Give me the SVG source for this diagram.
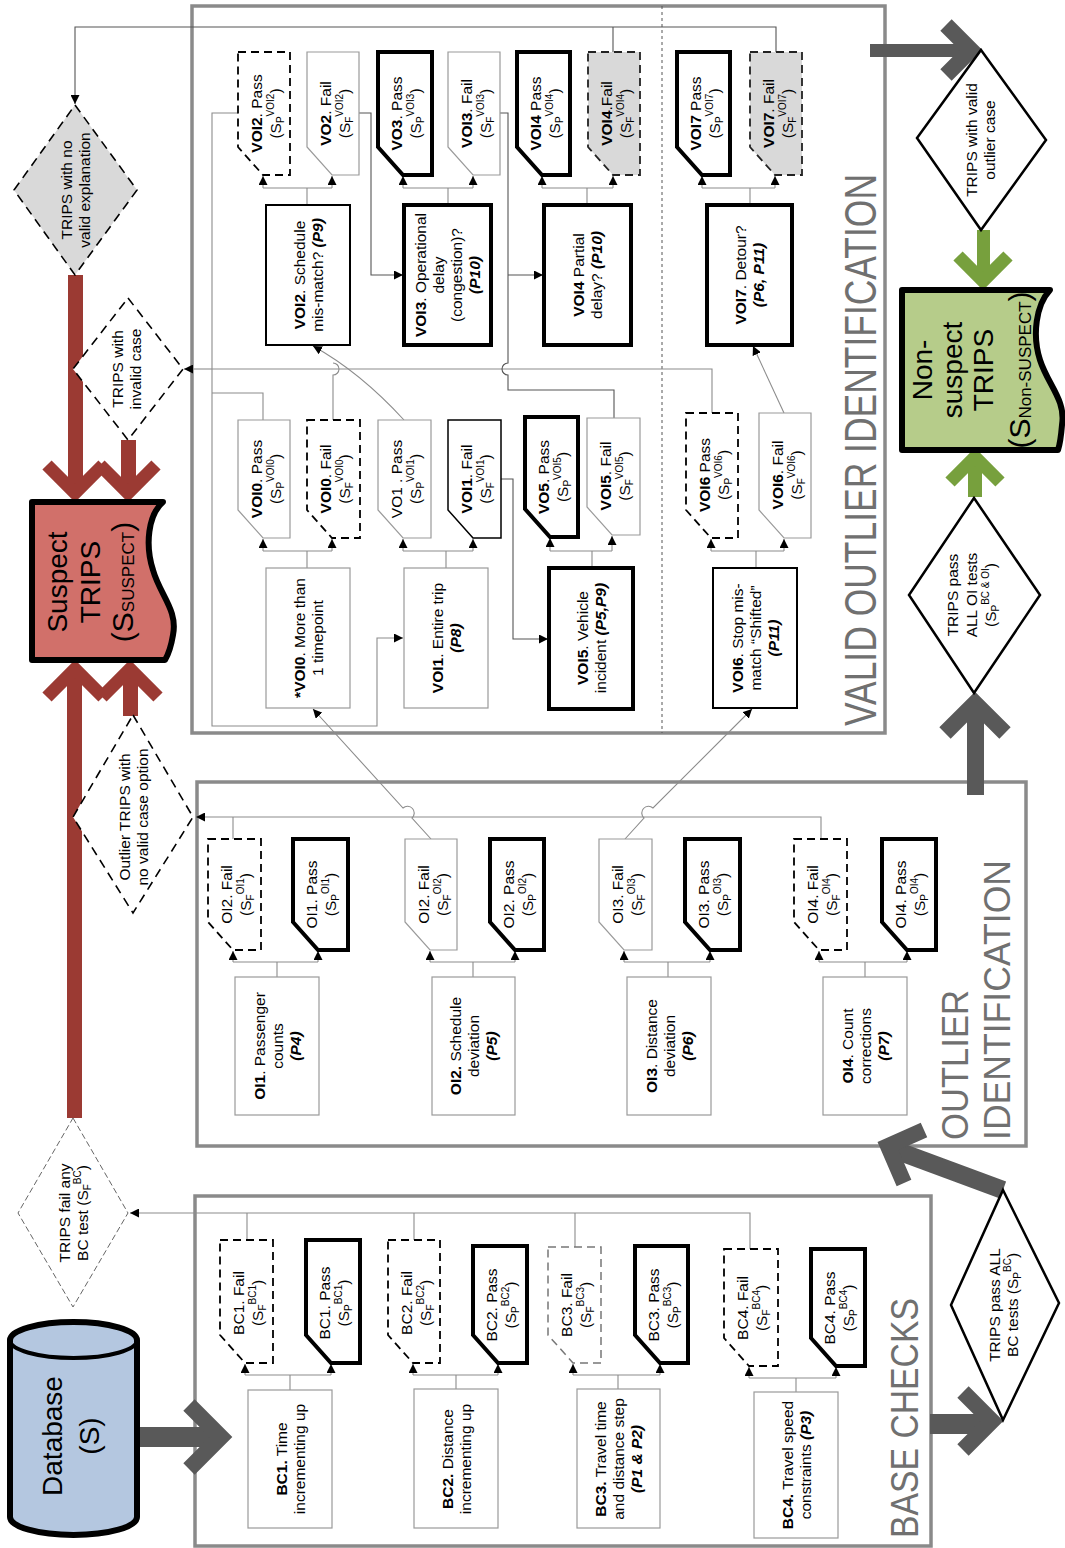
<svg xmlns="http://www.w3.org/2000/svg" width="1065" height="1548" viewBox="0 0 1065 1548">
<defs>
<style>
.t{font-family:"Liberation Sans",Arial,sans-serif;font-size:15.5px;fill:#000;text-anchor:middle}
.b{font-weight:bold}
.bi{font-weight:bold;font-style:italic}
.s{font-size:10px}
.big{font-family:"Liberation Sans",Arial,sans-serif;font-size:28px;fill:#000;text-anchor:middle}
.title{font-family:"Liberation Sans",Arial,sans-serif;fill:#707070}
.frame{fill:none;stroke:#8a8a8a;stroke-width:3.5}
.ln{fill:none;stroke:#8c8c8c;stroke-width:1.1}
.lnd{fill:none;stroke:#555;stroke-width:1.1}
.thick{fill:#fff;stroke:#000;stroke-width:4}
.med{fill:#fff;stroke:#000;stroke-width:2}
.blk{fill:#fff;stroke:#000;stroke-width:1.5}
.thin{fill:#fff;stroke:#9a9a9a;stroke-width:1.2}
.dash{fill:#fff;stroke:#000;stroke-width:1.8;stroke-dasharray:8 5}
.ldash{fill:#fff;stroke:#777;stroke-width:1.5;stroke-dasharray:8 5}
.gdash{fill:#d9d9d9;stroke:#222;stroke-width:1.8;stroke-dasharray:8 5}
.dia{fill:#fff;stroke:#000;stroke-width:2.5}
.ddia{fill:#fff;stroke:#000;stroke-width:1.6;stroke-dasharray:9 6}
.gdia{fill:#d9d9d9;stroke:#000;stroke-width:1.6;stroke-dasharray:9 6}
.tdia{fill:#fff;stroke:#666;stroke-width:1;stroke-dasharray:6 3}
.red{fill:#9b3a33}
.redc{fill:none;stroke:#9b3a33;stroke-width:13}
.gry{fill:#595959}
.gryc{fill:none;stroke:#595959;stroke-width:16}
.grn{fill:#77a03d}
.grnc{fill:none;stroke:#77a03d;stroke-width:13}
</style>
<marker id="ah" viewBox="0 0 10 10" refX="10" refY="5" markerWidth="9" markerHeight="9" orient="auto" markerUnits="userSpaceOnUse"><path d="M0,0L10,5L0,10z" fill="#000"/></marker>
</defs>
<rect width="1065" height="1548" fill="#fff"/>

<!-- section frames -->
<g id="frames">
<rect class="frame" x="192" y="6" width="693" height="727"/>
<line x1="662" y1="6" x2="662" y2="733" stroke="#555" stroke-width="1" stroke-dasharray="3 3"/>
<rect class="frame" x="197" y="782" width="829" height="364"/>
<rect class="frame" x="195" y="1196" width="736" height="350"/>
<text class="title" font-size="45" transform="translate(876,726) rotate(-90)" textLength="552" lengthAdjust="spacingAndGlyphs">VALID OUTLIER IDENTIFICATION</text>
<text class="title" font-size="36" transform="translate(968,1140) rotate(-90)" textLength="150" lengthAdjust="spacingAndGlyphs">OUTLIER</text>
<text class="title" font-size="36" transform="translate(1010,1140) rotate(-90)" textLength="280" lengthAdjust="spacingAndGlyphs">IDENTIFICATION</text>
<text class="title" font-size="38" transform="translate(918,1538) rotate(-90)" textLength="240" lengthAdjust="spacingAndGlyphs">BASE CHECKS</text>
</g>

<!-- connectors: thin flow lines and the broad arrows -->
<g id="connectors">
<!-- VOI upper row -->
<path class="ln" d="M263,188H332M307,188V205M403,188H473M448,188V205M542,188H613M587,188V205M702,188H775M750,188V205"/>
<path class="ln" d="M263,188V176" marker-end="url(#ah)"/>
<path class="ln" d="M332,188V176" marker-end="url(#ah)"/>
<path class="ln" d="M403,188V176" marker-end="url(#ah)"/>
<path class="ln" d="M473,188V176" marker-end="url(#ah)"/>
<path class="ln" d="M542,188V176" marker-end="url(#ah)"/>
<path class="ln" d="M613,188V176" marker-end="url(#ah)"/>
<path class="ln" d="M702,188V176" marker-end="url(#ah)"/>
<path class="ln" d="M775,188V176" marker-end="url(#ah)"/>
<!-- VOI lower row -->
<path class="ln" d="M263,551H332M307,551V568M403,551H473M446,551V568M550,551H612M592,551V568M711,551H784M756,551V568"/>
<path class="ln" d="M263,551V539" marker-end="url(#ah)"/>
<path class="ln" d="M332,551V539" marker-end="url(#ah)"/>
<path class="ln" d="M403,551V539" marker-end="url(#ah)"/>
<path class="ln" d="M473,551V539" marker-end="url(#ah)"/>
<path class="ln" d="M550,551V538" marker-end="url(#ah)"/>
<path class="ln" d="M612,551V536" marker-end="url(#ah)"/>
<path class="ln" d="M711,551V539" marker-end="url(#ah)"/>
<path class="ln" d="M784,551V539" marker-end="url(#ah)"/>
<!-- OI row -->
<path class="ln" d="M233,962H318M277,962V977M430,962H515M473,962V977M624,962H710M668,962V977M819,962H907M865,962V977"/>
<path class="ln" d="M233,962V951" marker-end="url(#ah)"/>
<path class="ln" d="M318,962V951" marker-end="url(#ah)"/>
<path class="ln" d="M430,962V951" marker-end="url(#ah)"/>
<path class="ln" d="M515,962V951" marker-end="url(#ah)"/>
<path class="ln" d="M624,962V951" marker-end="url(#ah)"/>
<path class="ln" d="M710,962V951" marker-end="url(#ah)"/>
<path class="ln" d="M819,962V951" marker-end="url(#ah)"/>
<path class="ln" d="M907,962V951" marker-end="url(#ah)"/>
<!-- BC row -->
<path class="ln" d="M245,1375H331M290,1375V1390M413,1375H498M456,1375V1389M573,1375H660M618,1375V1389M749,1378H836M796,1378V1392"/>
<path class="ln" d="M245,1375V1364" marker-end="url(#ah)"/>
<path class="ln" d="M331,1375V1364" marker-end="url(#ah)"/>
<path class="ln" d="M413,1375V1364" marker-end="url(#ah)"/>
<path class="ln" d="M498,1375V1364" marker-end="url(#ah)"/>
<path class="ln" d="M573,1375V1364" marker-end="url(#ah)"/>
<path class="ln" d="M660,1375V1364" marker-end="url(#ah)"/>
<path class="ln" d="M749,1378V1367" marker-end="url(#ah)"/>
<path class="ln" d="M836,1378V1367" marker-end="url(#ah)"/>

<!-- routing inside VOI -->
<path class="lnd" d="M776,52V27H75V104" marker-end="url(#ah)"/>
<path class="lnd" d="M613,52V27"/>
<path class="ln" d="M238,113H212V726H377V638H403" marker-end="url(#ah)"/>
<path class="ln" d="M212,369H184" marker-end="url(#ah)"/>
<path class="ln" d="M212,369H712V413"/>
<path class="ln" d="M263,420V393H212"/>
<path class="ln" d="M333,420V375A6,6 0 0 0 333,363"/>
<path class="lnd" d="M359,113H371V275H403" marker-end="url(#ah)"/>
<path class="lnd" d="M500,113H508V363A6,6 0 0 0 508,375V390H614V418"/>
<path class="lnd" d="M508,275H543" marker-end="url(#ah)"/>
<path class="ln" d="M404,420Q360,372 313,346" marker-end="url(#ah)"/>
<path class="ln" d="M784,413L753,346" marker-end="url(#ah)"/>
<path class="lnd" d="M501,479H513V639H548" marker-end="url(#ah)"/>
<!-- OI to VOI -->
<path class="ln" d="M431,839L412,818A6,6 0 0 0 403,808L313,709" marker-end="url(#ah)"/>
<path class="ln" d="M625,839L644,818A6,6 0 0 1 653,808L752,709" marker-end="url(#ah)"/>
<path class="ln" d="M821,839V817H196" marker-end="url(#ah)"/>
<path class="ln" d="M233,839V817"/>
<!-- BC fail line -->
<path class="ln" d="M750,1250V1213H130" marker-end="url(#ah)"/>
<path class="ln" d="M247,1240V1213M414,1240V1213M575,1247V1213"/>

<!-- broad arrows -->
<rect class="red" x="68" y="275" width="15" height="218"/>
<polyline class="redc" points="47,465 75,493 103,465"/>
<rect class="red" x="121" y="440" width="15" height="53"/>
<polyline class="redc" points="100,465 128,493 156,465"/>
<rect class="red" x="67" y="670" width="15" height="448"/>
<polyline class="redc" points="47,697 75,669 103,697"/>
<rect class="red" x="123" y="670" width="15" height="46"/>
<polyline class="redc" points="102,697 130,669 158,697"/>

<rect class="gry" x="137" y="1427" width="82" height="20"/>
<polyline class="gryc" points="189,1405 221,1437 189,1469"/>
<rect class="gry" x="930" y="1414" width="60" height="20"/>
<polyline class="gryc" points="963,1392 992,1421 963,1450"/>
<line x1="1003" y1="1190" x2="895" y2="1150" stroke="#595959" stroke-width="18"/>
<polyline class="gryc" points="904,1183 888,1146 924,1130"/>
<rect class="gry" x="967" y="705" width="17" height="90"/>
<polyline class="gryc" points="945,733 975,703 1005,733"/>
<rect class="gry" x="870" y="44" width="98" height="13"/>
<polyline class="gryc" points="946,25 971,50 946,75"/>

<rect class="grn" x="977" y="230" width="13" height="50"/>
<polyline class="grnc" points="958,256 983,281 1008,256"/>
<rect class="grn" x="968" y="460" width="14" height="37"/>
<polyline class="grnc" points="950,482 975,457 1000,482"/>
</g>

<!-- VOI upper cards -->
<g id="voi2-pass"><path class="dash" d="M238,52H290V175H263L238,147Z"/>
<text class="t" transform="translate(262,113.5) rotate(-90)"><tspan class="b">VOI2</tspan>. Pass<tspan x="0" dy="19">(S</tspan><tspan class="s" dy="3">P</tspan><tspan class="s" dy="-10">VOI2</tspan><tspan dy="7">)</tspan></text></g>
<g id="vo2-fail"><path class="thin" d="M307,52H359V175H332L307,147Z"/>
<text class="t" transform="translate(331,113.5) rotate(-90)"><tspan class="b">VO2</tspan>. Fail<tspan x="0" dy="19">(S</tspan><tspan class="s" dy="3">F</tspan><tspan class="s" dy="-10">VOI2</tspan><tspan dy="7">)</tspan></text></g>
<g id="vo3-pass"><path class="thick" d="M378,52H432V175H403L378,147Z"/>
<text class="t" transform="translate(402,113.5) rotate(-90)"><tspan class="b">VO3</tspan>. Pass<tspan x="0" dy="19">(S</tspan><tspan class="s" dy="3">P</tspan><tspan class="s" dy="-10">VOI3</tspan><tspan dy="7">)</tspan></text></g>
<g id="voi3-fail"><path class="thin" d="M448,52H500V175H473L448,147Z"/>
<text class="t" transform="translate(472,113.5) rotate(-90)"><tspan class="b">VOI3</tspan>. Fail<tspan x="0" dy="19">(S</tspan><tspan class="s" dy="3">F</tspan><tspan class="s" dy="-10">VOI3</tspan><tspan dy="7">)</tspan></text></g>
<g id="voi4-pass"><path class="thick" d="M517,52H570V175H542L517,147Z"/>
<text class="t" transform="translate(541,113.5) rotate(-90)"><tspan class="b">VOI4</tspan> Pass<tspan x="0" dy="19">(S</tspan><tspan class="s" dy="3">P</tspan><tspan class="s" dy="-10">VOI4</tspan><tspan dy="7">)</tspan></text></g>
<g id="voi4-fail"><path class="gdash" d="M588,52H640V175H613L588,147Z"/>
<text class="t" transform="translate(612,113.5) rotate(-90)"><tspan class="b">VOI4</tspan>.Fail<tspan x="0" dy="19">(S</tspan><tspan class="s" dy="3">F</tspan><tspan class="s" dy="-10">VOI4</tspan><tspan dy="7">)</tspan></text></g>
<g id="voi7-pass"><path class="thick" d="M677,52H730V175H702L677,147Z"/>
<text class="t" transform="translate(701,113.5) rotate(-90)"><tspan class="b">VOI7</tspan> Pass<tspan x="0" dy="19">(S</tspan><tspan class="s" dy="3">P</tspan><tspan class="s" dy="-10">VOI7</tspan><tspan dy="7">)</tspan></text></g>
<g id="voi7-fail"><path class="gdash" d="M750,52H802V175H775L750,147Z"/>
<text class="t" transform="translate(774,113.5) rotate(-90)"><tspan class="b">VOI7</tspan>. Fail<tspan x="0" dy="19">(S</tspan><tspan class="s" dy="3">F</tspan><tspan class="s" dy="-10">VOI7</tspan><tspan dy="7">)</tspan></text></g>

<!-- VOI upper tests -->
<g id="voi2"><rect class="med" x="266" y="205" width="84" height="140"/>
<text class="t" transform="translate(304.5,275) rotate(-90)"><tspan class="b">VOI2</tspan>. Schedule<tspan x="0" dy="18">mis-match? </tspan><tspan class="bi">(P9)</tspan></text></g>
<g id="voi3"><rect class="thick" x="404" y="205" width="87" height="140"/>
<text class="t" transform="translate(426,275) rotate(-90)"><tspan class="b">VOI3</tspan>. Operational<tspan x="0" dy="18">delay</tspan><tspan x="0" dy="18">(congestion)?</tspan><tspan x="0" dy="18" class="bi">(P10)</tspan></text></g>
<g id="voi4"><rect class="thick" x="544" y="205" width="87" height="140"/>
<text class="t" transform="translate(584,275) rotate(-90)"><tspan class="b">VOI4</tspan> Partial<tspan x="0" dy="18">delay? </tspan><tspan class="bi">(P10)</tspan></text></g>
<g id="voi7"><rect class="thick" x="707" y="205" width="85" height="140"/>
<text class="t" transform="translate(746,275) rotate(-90)"><tspan class="b">VOI7</tspan>. Detour?<tspan x="0" dy="18" class="bi">(P6, P11)</tspan></text></g>

<!-- VOI lower cards -->
<g id="voi0-pass"><path class="thin" d="M238,420H290V538H263L238,510Z"/>
<text class="t" transform="translate(262,479) rotate(-90)"><tspan class="b">VOI0</tspan>. Pass<tspan x="0" dy="19">(S</tspan><tspan class="s" dy="3">P</tspan><tspan class="s" dy="-10">VOI0</tspan><tspan dy="7">)</tspan></text></g>
<g id="voi0-fail"><path class="dash" d="M307,420H360V538H332L307,510Z"/>
<text class="t" transform="translate(331,479) rotate(-90)"><tspan class="b">VOI0</tspan>. Fail<tspan x="0" dy="19">(S</tspan><tspan class="s" dy="3">F</tspan><tspan class="s" dy="-10">VOI0</tspan><tspan dy="7">)</tspan></text></g>
<g id="vo1-pass"><path class="thin" d="M378,420H431V538H403L378,510Z"/>
<text class="t" transform="translate(402,479) rotate(-90)">VO1 . Pass<tspan x="0" dy="19">(S</tspan><tspan class="s" dy="3">P</tspan><tspan class="s" dy="-10">VOI1</tspan><tspan dy="7">)</tspan></text></g>
<g id="voi1-fail"><path class="blk" d="M448,420H501V538H473L448,510Z"/>
<text class="t" transform="translate(472,479) rotate(-90)"><tspan class="b">VOI1</tspan>. Fail<tspan x="0" dy="19">(S</tspan><tspan class="s" dy="3">F</tspan><tspan class="s" dy="-10">VOI1</tspan><tspan dy="7">)</tspan></text></g>
<g id="vo5-pass"><path class="thick" d="M525,417H578V537H550L525,509Z"/>
<text class="t" transform="translate(549,477) rotate(-90)"><tspan class="b">VO5</tspan>. Pass<tspan x="0" dy="19">(S</tspan><tspan class="s" dy="3">P</tspan><tspan class="s" dy="-10">VOI5</tspan><tspan dy="7">)</tspan></text></g>
<g id="voi5-fail"><path class="thin" d="M587,418H640V535H612L587,507Z"/>
<text class="t" transform="translate(611,476) rotate(-90)"><tspan class="b">VOI5</tspan>. Fail<tspan x="0" dy="19">(S</tspan><tspan class="s" dy="3">F</tspan><tspan class="s" dy="-10">VOI5</tspan><tspan dy="7">)</tspan></text></g>
<g id="voi6-pass"><path class="dash" d="M686,413H738V538H711L686,510Z"/>
<text class="t" transform="translate(710,475) rotate(-90)"><tspan class="b">VOI6</tspan> Pass<tspan x="0" dy="19">(S</tspan><tspan class="s" dy="3">P</tspan><tspan class="s" dy="-10">VOI6</tspan><tspan dy="7">)</tspan></text></g>
<g id="voi6-fail"><path class="thin" d="M759,413H811V538H784L759,510Z"/>
<text class="t" transform="translate(783,475) rotate(-90)"><tspan class="b">VOI6</tspan>. Fail<tspan x="0" dy="19">(S</tspan><tspan class="s" dy="3">F</tspan><tspan class="s" dy="-10">VOI6</tspan><tspan dy="7">)</tspan></text></g>

<!-- VOI lower tests -->
<g id="voi0"><rect class="thin" x="266" y="568" width="84" height="140"/>
<text class="t" transform="translate(304.5,638) rotate(-90)"><tspan class="b">*VOI0</tspan>. More than<tspan x="0" dy="18">1 timepoint</tspan></text></g>
<g id="voi1"><rect class="thin" x="404" y="568" width="84" height="140"/>
<text class="t" transform="translate(442.5,638) rotate(-90)"><tspan class="b">VOI1</tspan>. Entire trip<tspan x="0" dy="18" class="bi">(P8)</tspan></text></g>
<g id="voi5"><rect class="thick" x="549" y="568" width="84" height="141"/>
<text class="t" transform="translate(587.5,638) rotate(-90)"><tspan class="b">VOI5</tspan>. Vehicle<tspan x="0" dy="18">incident </tspan><tspan class="bi">(P5,P9)</tspan></text></g>
<g id="voi6"><rect class="med" x="713" y="568" width="84" height="140"/>
<text class="t" transform="translate(742.5,638) rotate(-90)"><tspan class="b">VOI6</tspan>. Stop mis-<tspan x="0" dy="18">match “Shifted”</tspan><tspan x="0" dy="18" class="bi">(P11)</tspan></text></g>

<!-- OI cards -->
<g id="oi1-fail"><path class="dash" d="M208,839H261V950H233L208,922Z"/>
<text class="t" transform="translate(232,894.5) rotate(-90)">OI2. Fail<tspan x="0" dy="19">(S</tspan><tspan class="s" dy="3">F</tspan><tspan class="s" dy="-10">OI1</tspan><tspan dy="7">)</tspan></text></g>
<g id="oi1-pass"><path class="thick" d="M293,839H348V950H318L293,922Z"/>
<text class="t" transform="translate(317,894.5) rotate(-90)">OI1. Pass<tspan x="0" dy="19">(S</tspan><tspan class="s" dy="3">P</tspan><tspan class="s" dy="-10">OI1</tspan><tspan dy="7">)</tspan></text></g>
<g id="oi2-fail"><path class="thin" d="M405,839H457V950H430L405,922Z"/>
<text class="t" transform="translate(429,894.5) rotate(-90)">OI2. Fail<tspan x="0" dy="19">(S</tspan><tspan class="s" dy="3">F</tspan><tspan class="s" dy="-10">OI2</tspan><tspan dy="7">)</tspan></text></g>
<g id="oi2-pass"><path class="thick" d="M490,839H544V950H515L490,922Z"/>
<text class="t" transform="translate(514,894.5) rotate(-90)">OI2. Pass<tspan x="0" dy="19">(S</tspan><tspan class="s" dy="3">P</tspan><tspan class="s" dy="-10">OI2</tspan><tspan dy="7">)</tspan></text></g>
<g id="oi3-fail"><path class="thin" d="M599,839H652V950H624L599,922Z"/>
<text class="t" transform="translate(623,894.5) rotate(-90)">OI3. Fail<tspan x="0" dy="19">(S</tspan><tspan class="s" dy="3">F</tspan><tspan class="s" dy="-10">OI3</tspan><tspan dy="7">)</tspan></text></g>
<g id="oi3-pass"><path class="thick" d="M685,839H740V950H710L685,922Z"/>
<text class="t" transform="translate(709,894.5) rotate(-90)">OI3. Pass<tspan x="0" dy="19">(S</tspan><tspan class="s" dy="3">P</tspan><tspan class="s" dy="-10">OI3</tspan><tspan dy="7">)</tspan></text></g>
<g id="oi4-fail"><path class="dash" d="M794,839H847V950H819L794,922Z"/>
<text class="t" transform="translate(818,894.5) rotate(-90)">OI4. Fail<tspan x="0" dy="19">(S</tspan><tspan class="s" dy="3">F</tspan><tspan class="s" dy="-10">OI4</tspan><tspan dy="7">)</tspan></text></g>
<g id="oi4-pass"><path class="thick" d="M882,839H936V950H907L882,922Z"/>
<text class="t" transform="translate(906,894.5) rotate(-90)">OI4. Pass<tspan x="0" dy="19">(S</tspan><tspan class="s" dy="3">P</tspan><tspan class="s" dy="-10">OI4</tspan><tspan dy="7">)</tspan></text></g>

<!-- OI tests -->
<g id="oi1"><rect class="thin" x="235" y="977" width="84" height="138"/>
<text class="t" transform="translate(264.5,1046) rotate(-90)"><tspan class="b">OI1</tspan>. Passenger<tspan x="0" dy="18">counts</tspan><tspan x="0" dy="18" class="bi">(P4)</tspan></text></g>
<g id="oi2"><rect class="thin" x="432" y="977" width="83" height="138"/>
<text class="t" transform="translate(461,1046) rotate(-90)"><tspan class="b">OI2.</tspan> Schedule<tspan x="0" dy="18">deviation</tspan><tspan x="0" dy="18" class="bi">(P5)</tspan></text></g>
<g id="oi3"><rect class="thin" x="627" y="977" width="84" height="138"/>
<text class="t" transform="translate(656.5,1046) rotate(-90)"><tspan class="b">OI3</tspan>. Distance<tspan x="0" dy="18">deviation</tspan><tspan x="0" dy="18" class="bi">(P6)</tspan></text></g>
<g id="oi4"><rect class="thin" x="823" y="977" width="84" height="138"/>
<text class="t" transform="translate(852.5,1046) rotate(-90)"><tspan class="b">OI4</tspan>. Count<tspan x="0" dy="18">corrections</tspan><tspan x="0" dy="18" class="bi">(P7)</tspan></text></g>

<!-- BC cards -->
<g id="bc1-fail"><path class="dash" d="M220,1240H273V1363H245L220,1335Z"/>
<text class="t" transform="translate(244,1303) rotate(-90)">BC1. Fail<tspan x="0" dy="19">(S</tspan><tspan class="s" dy="3">F</tspan><tspan class="s" dy="-10">BC1</tspan><tspan dy="7">)</tspan></text></g>
<g id="bc1-pass"><path class="thick" d="M306,1240H360V1363H331L306,1335Z"/>
<text class="t" transform="translate(330,1303) rotate(-90)">BC1. Pass<tspan x="0" dy="19">(S</tspan><tspan class="s" dy="3">P</tspan><tspan class="s" dy="-10">BC1</tspan><tspan dy="7">)</tspan></text></g>
<g id="bc2-fail"><path class="dash" d="M388,1240H440V1363H413L388,1335Z"/>
<text class="t" transform="translate(412,1303) rotate(-90)">BC2. Fail<tspan x="0" dy="19">(S</tspan><tspan class="s" dy="3">F</tspan><tspan class="s" dy="-10">BC2</tspan><tspan dy="7">)</tspan></text></g>
<g id="bc2-pass"><path class="thick" d="M473,1246H527V1363H498L473,1335Z"/>
<text class="t" transform="translate(497,1305) rotate(-90)">BC2. Pass<tspan x="0" dy="19">(S</tspan><tspan class="s" dy="3">P</tspan><tspan class="s" dy="-10">BC2</tspan><tspan dy="7">)</tspan></text></g>
<g id="bc3-fail"><path class="ldash" d="M548,1247H601V1363H573L548,1335Z"/>
<text class="t" transform="translate(572,1305) rotate(-90)">BC3. Fail<tspan x="0" dy="19">(S</tspan><tspan class="s" dy="3">F</tspan><tspan class="s" dy="-10">BC3</tspan><tspan dy="7">)</tspan></text></g>
<g id="bc3-pass"><path class="thick" d="M635,1246H688V1363H660L635,1335Z"/>
<text class="t" transform="translate(659,1305) rotate(-90)">BC3. Pass<tspan x="0" dy="19">(S</tspan><tspan class="s" dy="3">P</tspan><tspan class="s" dy="-10">BC3</tspan><tspan dy="7">)</tspan></text></g>
<g id="bc4-fail"><path class="dash" d="M724,1249H778V1366H749L724,1338Z"/>
<text class="t" transform="translate(748,1308) rotate(-90)">BC4. Fail<tspan x="0" dy="19">(S</tspan><tspan class="s" dy="3">F</tspan><tspan class="s" dy="-10">BC4</tspan><tspan dy="7">)</tspan></text></g>
<g id="bc4-pass"><path class="thick" d="M811,1249H865V1366H836L811,1338Z"/>
<text class="t" transform="translate(835,1308) rotate(-90)">BC4. Pass<tspan x="0" dy="19">(S</tspan><tspan class="s" dy="3">P</tspan><tspan class="s" dy="-10">BC4</tspan><tspan dy="7">)</tspan></text></g>

<!-- BC tests -->
<g id="bc1"><rect class="thin" x="248" y="1390" width="84" height="138"/>
<text class="t" transform="translate(286.5,1459) rotate(-90)"><tspan class="b">BC1.</tspan> Time<tspan x="0" dy="18">incrementing up</tspan></text></g>
<g id="bc2"><rect class="thin" x="414" y="1389" width="84" height="139"/>
<text class="t" transform="translate(452.5,1459) rotate(-90)"><tspan class="b">BC2.</tspan> Distance<tspan x="0" dy="18">incrementing up</tspan></text></g>
<g id="bc3"><rect class="thin" x="577" y="1389" width="83" height="139"/>
<text class="t" transform="translate(606,1459) rotate(-90)"><tspan class="b">BC3.</tspan> Travel time<tspan x="0" dy="18">and distance step</tspan><tspan x="0" dy="18" class="bi">(P1 &amp; P2)</tspan></text></g>
<g id="bc4"><rect class="thin" x="754" y="1392" width="84" height="146"/>
<text class="t" transform="translate(792.5,1465) rotate(-90)"><tspan class="b">BC4.</tspan> Travel speed<tspan x="0" dy="18">constraints </tspan><tspan class="bi">(P3)</tspan></text></g>

<!-- decision diamonds -->
<g id="no-valid-explanation"><polygon class="gdia" points="75,105 137,190 75,275 14,190"/>
<text class="t" transform="translate(72,190) rotate(-90)">TRIPS with no<tspan x="0" dy="18">valid explanation</tspan></text></g>
<g id="invalid-case"><polygon class="ddia" points="128,298 183,369 128,440 73,369"/>
<text class="t" transform="translate(123,369) rotate(-90)">TRIPS with<tspan x="0" dy="18">invalid case</tspan></text></g>
<g id="no-valid-case-option"><polygon class="ddia" points="133,715 193,817 133,913 73,817"/>
<text class="t" transform="translate(130,817) rotate(-90)">Outlier TRIPS with<tspan x="0" dy="18">no valid case option</tspan></text></g>
<g id="fail-any-bc"><polygon class="tdia" points="73,1118 128,1213 73,1307 18,1213"/>
<text class="t" transform="translate(70,1213) rotate(-90)">TRIPS fail any<tspan x="0" dy="18">BC test (S</tspan><tspan class="s" dy="3">F</tspan><tspan class="s" dy="-10">BC</tspan><tspan dy="7">)</tspan></text></g>
<g id="pass-all-bc"><polygon class="dia" points="1003,1190 1059,1303 1003,1420 951,1305"/>
<text class="t" transform="translate(1000,1305) rotate(-90)">TRIPS pass ALL<tspan x="0" dy="18">BC tests (S</tspan><tspan class="s" dy="3">P</tspan><tspan class="s" dy="-10">BC</tspan><tspan dy="7">)</tspan></text></g>
<g id="pass-all-oi"><polygon class="dia" points="974,498 1040,595 974,693 909,595"/>
<text class="t" transform="translate(958,595) rotate(-90)">TRIPS pass<tspan x="0" dy="19">ALL OI tests</tspan><tspan x="0" dy="19">(S</tspan><tspan class="s" dy="3">P</tspan><tspan class="s" dy="-10">BC &amp; OI</tspan><tspan dy="7">)</tspan></text></g>
<g id="valid-outlier-case"><polygon class="dia" points="981,50 1046,140 981,230 917,138"/>
<text class="t" transform="translate(977,140) rotate(-90)">TRIPS with valid<tspan x="0" dy="18">outlier case</tspan></text></g>

<!-- data stores -->
<g id="database">
<path d="M10,1340A63.5,18 0 0 1 137,1340V1517A63.5,18 0 0 1 10,1517Z" fill="#b4c7e0" stroke="#000" stroke-width="6"/>
<path d="M10,1340A63.5,18 0 0 0 137,1340" fill="none" stroke="#000" stroke-width="4"/>
<text class="big" font-size="36" transform="translate(62,1436) rotate(-90)">Database<tspan x="0" dy="37">(S)</tspan></text>
</g>
<g id="suspect-trips">
<path d="M32,502H163C148,515 145,545 153,570C160,595 178,610 173,635C171,647 168,655 165,660H32Z" fill="#d1706a" stroke="#000" stroke-width="6" stroke-linejoin="round"/>
<text class="big" transform="translate(67,582) rotate(-90)">Suspect<tspan x="0" dy="33">TRIPS</tspan><tspan x="0" dy="33" font-size="30">(S</tspan><tspan font-size="17" dy="1">SUSPECT</tspan><tspan font-size="30" dy="-1">)</tspan></text>
</g>
<g id="non-suspect-trips">
<path d="M902,290H1050C1036,305 1032,335 1040,360C1048,385 1066,400 1062,425C1061,437 1060,444 1058,450H902Z" fill="#b6cc8a" stroke="#000" stroke-width="6" stroke-linejoin="round"/>
<text class="big" transform="translate(932,370) rotate(-90)">Non-<tspan x="0" dy="30">suspect</tspan><tspan x="0" dy="31">TRIPS</tspan><tspan x="0" dy="37" font-size="30">(S</tspan><tspan font-size="17" dy="1">Non-SUSPECT</tspan><tspan font-size="30" dy="-1">)</tspan></text>
</g>
</svg>
